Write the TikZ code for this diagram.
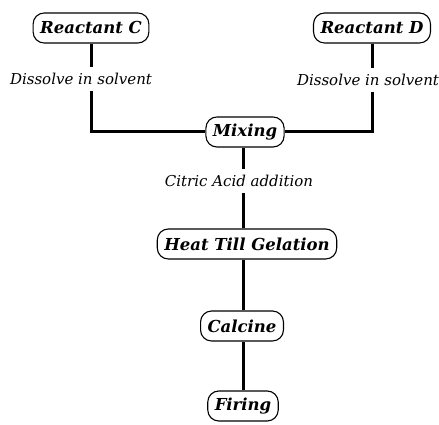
\documentclass[tikz,border=0pt]{standalone}
\usepackage{fontspec}
\setmainfont{DejaVu Serif}
\begin{document}
\begin{tikzpicture}[x=1pt,y=1pt,
  stepbox/.style={draw, line width=1.1pt, rounded corners=11pt, minimum height=30pt, inner xsep=7pt, inner ysep=2pt,
    font=\fontsize{16.5}{19}\selectfont\bfseries\itshape},
  lbl/.style={font=\fontsize{15}{17}\selectfont\itshape, inner xsep=1pt, inner ysep=6pt},
  conn/.style={line width=3pt}]
\useasboundingbox (0,0) rectangle (439,425);
\node[stepbox] (rc) at (91,397) {Reactant C};
\node[stepbox] (rd) at (372,397) {Reactant D};
\node[lbl] (lc) at (81,346) {Dissolve in solvent};
\node[lbl] (ld) at (368,345) {Dissolve in solvent};
\node[stepbox] (mix) at (245,293) {Mixing};
\node[lbl] (la) at (239,244) {Citric Acid addition};
\node[stepbox] (heat) at (247,181) {Heat Till Gelation};
\node[stepbox] (calc) at (242,99) {Calcine};
\node[stepbox] (fire) at (243,19) {Firing};
\coordinate (cc) at (91,293);
\coordinate (dc) at (372,293);
\coordinate (trunk) at (243,0);
\draw[conn] (rc.south -| cc) -- (lc.north -| cc);
\draw[conn] (lc.south -| cc) -- (cc) -- (mix.west);
\draw[conn] (rd.south) -- (ld.north -| rd);
\draw[conn] (ld.south -| rd) -- (dc) -- (mix.east);
\draw[conn] (mix.south -| trunk) -- (la.north -| trunk);
\draw[conn] (la.south -| trunk) -- (heat.north -| trunk);
\draw[conn] (heat.south -| trunk) -- (calc.north -| trunk);
\draw[conn] (calc.south -| trunk) -- (fire.north -| trunk);
\end{tikzpicture}
\end{document}
